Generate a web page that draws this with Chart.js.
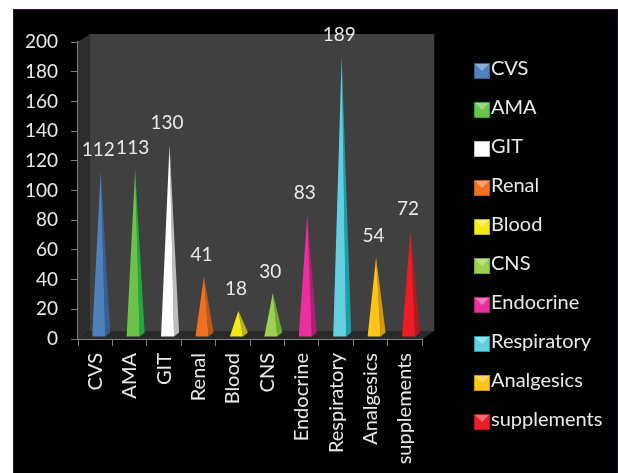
<!DOCTYPE html>
<html>
<head>
<meta charset="utf-8">
<title>Drug categories</title>
<script src="https://cdn.jsdelivr.net/npm/chart.js@4"></script>
<style>
  html, body { margin: 0; background: #fff; overflow: hidden; }
  #panel { position: absolute; left: 13px; top: 9px; width: 603px; height: 464px; background: #000; border: 1px solid #2a0f33; border-bottom: 0; }
  #wrap { position: absolute; left: 0; top: 0; width: 618px; height: 473px; }
</style>
</head>
<body>
<div id="panel"></div>
<div id="wrap"><canvas id="chart" width="618" height="473"></canvas></div>
<script>
const categories = ['CVS', 'AMA', 'GIT', 'Renal', 'Blood', 'CNS', 'Endocrine', 'Respiratory', 'Analgesics', 'supplements'];
const counts = [112, 113, 130, 41, 18, 30, 83, 189, 54, 72];
const frontColors = ['#4f81bd', '#6cc24a', '#ffffff', '#f07020', '#f5e916', '#9bd050', '#ec2f9e', '#62cfe0', '#ffc417', '#ee1c25'];
const sideColors = ['#36608f', '#1faa3f', '#bdbdbd', '#bd5815', '#b8b020', '#6fa83a', '#ad2078', '#1a9fa8', '#cf9a10', '#b01a20'];

const textColor = '#e9e9e9';
const axisColor = '#808080';
const fontFamily = 'Lato, sans-serif';
const depthX = 12; // decalage du mur du fond
const depthY = 8;

// Pyramide a la place de la barre
class PyramidElement extends Chart.BarElement {
  static id = 'pyramid';
  draw(ctx) {
    const { x, y, base } = this.getProps(['x', 'y', 'base']);
    const bottom = base - 2;
    const left = x - 3;
    const right = x + 10;
    const tipX = x + 5.5;
    const tipY = y - 1.5;
    ctx.save();
    ctx.fillStyle = this.options.borderColor;
    ctx.beginPath();
    ctx.moveTo(right, bottom);
    ctx.lineTo(x + 15, bottom - 4);
    ctx.lineTo(tipX, tipY);
    ctx.closePath();
    ctx.fill();
    ctx.fillStyle = this.options.backgroundColor;
    ctx.beginPath();
    ctx.moveTo(left, bottom);
    ctx.lineTo(right, bottom);
    ctx.lineTo(tipX, tipY);
    ctx.closePath();
    ctx.fill();
    ctx.restore();
  }
}

class PyramidController extends Chart.BarController {
  static id = 'pyramid';
  static defaults = { dataElementType: 'pyramid' };
}

Chart.register(PyramidElement, PyramidController);

// Carre de legende avec un petit relief
function makeSwatch(front, side) {
  const c = document.createElement('canvas');
  c.width = 20;
  c.height = 20;
  const g = c.getContext('2d');
  g.fillStyle = side;
  g.fillRect(4, 4, 16, 16);
  g.fillStyle = front;
  g.fillRect(5, 5, 14, 14);
  g.fillStyle = 'rgba(255,255,255,0.35)';
  g.beginPath();
  g.moveTo(5, 5);
  g.lineTo(19, 5);
  g.lineTo(12, 12);
  g.closePath();
  g.fill();
  return c;
}

const wallPlugin = {
  id: 'wall',
  beforeDatasetsDraw(chart) {
    const { ctx, chartArea: a } = chart;
    ctx.save();
    ctx.fillStyle = '#404040';
    ctx.fillRect(a.left + depthX, a.top - depthY, a.right - a.left, a.bottom - a.top);
    ctx.fillStyle = '#2e2e2e';
    ctx.beginPath();
    ctx.moveTo(a.left, a.top);
    ctx.lineTo(a.left + depthX, a.top - depthY);
    ctx.lineTo(a.left + depthX, a.bottom - depthY);
    ctx.lineTo(a.left, a.bottom);
    ctx.closePath();
    ctx.fill();
    ctx.fillStyle = '#2a2a2a';
    ctx.beginPath();
    ctx.moveTo(a.left, a.bottom);
    ctx.lineTo(a.left + depthX, a.bottom - depthY);
    ctx.lineTo(a.right + depthX, a.bottom - depthY);
    ctx.lineTo(a.right, a.bottom);
    ctx.closePath();
    ctx.fill();
    ctx.restore();
  }
};

const valueLabelPlugin = {
  id: 'valueLabels',
  afterDatasetsDraw(chart) {
    const { ctx } = chart;
    ctx.save();
    ctx.fillStyle = textColor;
    ctx.font = '19px ' + fontFamily;
    ctx.textAlign = 'center';
    ctx.textBaseline = 'middle';
    chart.getDatasetMeta(0).data.forEach((bar, i) => {
      ctx.fillText(counts[i], bar.x + 3, bar.y - 23);
    });
    ctx.restore();
  }
};

// La legende est loin du graphique dans l'original
const legendPlacePlugin = {
  id: 'legendPlace',
  afterLayout(chart) {
    chart.legend.left = 460;
    chart.legend.right = 618; // sinon le dernier libelle est coupe
    chart.legend.top = 40;
  }
};

new Chart(document.getElementById('chart'), {
  type: 'pyramid',
  data: {
    labels: categories,
    datasets: [{
      data: counts,
      backgroundColor: frontColors,
      borderColor: sideColors,
      borderWidth: 0,
      barThickness: 18
    }]
  },
  plugins: [wallPlugin, valueLabelPlugin, legendPlacePlugin],
  options: {
    responsive: false,
    animation: false,
    layout: { padding: { top: 42, right: 55 } },
    scales: {
      x: {
        offset: true,
        grid: { drawOnChartArea: false, offset: true, color: axisColor, tickLength: 7, tickWidth: 1 },
        border: { color: axisColor, width: 2 },
        ticks: { color: textColor, font: { family: fontFamily, size: 20 }, minRotation: 90, maxRotation: 90, autoSkip: false, padding: 7 },
        afterFit(scale) { scale.height = 134; }
      },
      y: {
        min: 0,
        max: 200,
        grid: { drawOnChartArea: false, color: axisColor, tickLength: 7, tickWidth: 1 },
        border: { color: axisColor, width: 2 },
        ticks: { color: textColor, font: { family: fontFamily, size: 19 }, stepSize: 20, padding: 13 },
        afterFit(scale) { scale.width = 78; }
      }
    },
    plugins: {
      tooltip: { enabled: false },
      title: { display: false },
      legend: {
        display: true,
        position: 'right',
        align: 'start',
        labels: {
          color: textColor,
          font: { family: fontFamily, size: 20 },
          usePointStyle: true,
          boxWidth: 2,
          padding: 19,
          generateLabels() {
            return categories.map((name, i) => ({
              text: name,
              fontColor: textColor,
              pointStyle: makeSwatch(frontColors[i], sideColors[i]),
              fillStyle: frontColors[i],
              strokeStyle: sideColors[i],
              lineWidth: 0,
              index: i
            }));
          }
        }
      }
    }
  }
});
</script>
</body>
</html>
